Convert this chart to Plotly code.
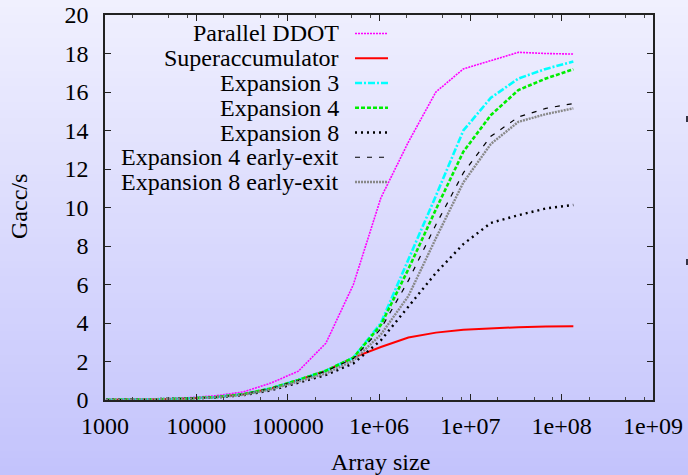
import plotly.graph_objects as go

# ---------------- data ----------------
array_sizes = [1024, 2048, 4096, 8192, 16384, 32768, 65536, 131072, 262144,
               524288, 1048576, 2097152, 4194304, 8388608, 16777216,
               33554432, 67108864, 134217728]

series_names = ["Parallel DDOT", "Superaccumulator", "Expansion 3", "Expansion 4",
                "Expansion 8", "Expansion 4 early-exit", "Expansion 8 early-exit"]

parallel_ddot = [0.02, 0.03, 0.06, 0.12, 0.22, 0.42, 0.88, 1.5, 2.95,
                 6.0, 10.5, 13.4, 16.0, 17.2, 17.65, 18.06, 18.0, 17.97]
superaccumulator = [0.01, 0.02, 0.04, 0.08, 0.15, 0.3, 0.6, 1.04, 1.52,
                    2.2, 2.75, 3.25, 3.5, 3.65, 3.72, 3.78, 3.82, 3.83]
expansion3 = [0.01, 0.02, 0.04, 0.08, 0.15, 0.3, 0.6, 1.04, 1.52,
              2.2, 4.0, 7.3, 10.6, 14.0, 15.7, 16.7, 17.2, 17.58]
expansion4 = [0.01, 0.02, 0.04, 0.08, 0.15, 0.3, 0.6, 1.04, 1.52,
              2.2, 3.9, 6.8, 9.9, 12.9, 14.8, 16.1, 16.7, 17.18]
expansion8 = [0.01, 0.02, 0.03, 0.07, 0.13, 0.25, 0.5, 0.88, 1.3,
              1.9, 3.1, 4.85, 6.6, 8.1, 9.2, 9.6, 9.95, 10.13]
expansion4_ee = [0.01, 0.02, 0.04, 0.08, 0.15, 0.3, 0.6, 1.02, 1.5,
                 2.15, 3.7, 6.2, 9.1, 11.8, 13.7, 14.7, 15.15, 15.4]
expansion8_ee = [0.01, 0.02, 0.03, 0.07, 0.14, 0.27, 0.55, 0.95, 1.38,
                 2.05, 3.4, 5.4, 8.4, 11.3, 13.3, 14.45, 14.85, 15.15]

x_tick_vals = [1e3, 1e4, 1e5, 1e6, 1e7, 1e8, 1e9]
x_tick_text = ["1000", "10000", "100000", "1e+06", "1e+07", "1e+08", "1e+09"]
y_tick_vals = [0, 2, 4, 6, 8, 10, 12, 14, 16, 18, 20]

all_series = [parallel_ddot, superaccumulator, expansion3, expansion4,
              expansion8, expansion4_ee, expansion8_ee]

# ---------------- styles ----------------
styles = [
    dict(color="#ff00ff", width=1.6, dash="2px,1px"),
    dict(color="#ff0000", width=2.0, dash="solid"),
    dict(color="#00ffff", width=2.6, dash="7px,2px,2px,2px"),
    dict(color="#00ee00", width=2.6, dash="4px,2px"),
    dict(color="#000000", width=2.4, dash="2px,4px"),
    dict(color="#000000", width=1.2, dash="5px,7px"),
    dict(color="#888888", width=2.4, dash="2px,1px"),
]

W, H = 688, 475
L, R, T, B = 105, 35, 15, 75
PW, PH = W - L - R, H - T - B
FONT = "Liberation Serif"

fig = go.Figure()
for name, ys, st in zip(series_names, all_series, styles):
    fig.add_trace(go.Scatter(x=array_sizes, y=ys, mode="lines", name=name,
                             line=dict(color=st["color"], width=st["width"],
                                       dash=st["dash"]),
                             showlegend=False, hoverinfo="skip"))

shapes = []
# vertical gradient background
top = (0xF0, 0xF0, 0xFE)
bot = (0xC3, 0xC3, 0xFC)
N = 60
for i in range(N):
    t = (i + 0.5) / N
    c = tuple(round(top[k] + (bot[k] - top[k]) * t) for k in range(3))
    shapes.append(dict(type="rect", xref="paper", yref="paper",
                       x0=-L / PW, x1=(W - L) / PW,
                       y0=1 + T / PH - (i + 1) / N * H / PH - 0.002,
                       y1=1 + T / PH - i / N * H / PH + 0.002,
                       fillcolor="rgb(%d,%d,%d)" % c, line=dict(width=0),
                       layer="below"))

def px_x(p):
    return (p - L) / PW

def px_y(p):
    return (H - B - p) / PH

# manual gnuplot-style legend
annotations = []
row0, row_step = 33.5, 24.75
for i, (name, st) in enumerate(zip(series_names, styles)):
    yc = row0 + i * row_step
    annotations.append(dict(x=px_x(341), y=px_y(yc), xref="paper", yref="paper",
                            text=name, showarrow=False, xanchor="right",
                            yanchor="middle",
                            font=dict(family=FONT, size=24, color="#000")))
    shapes.append(dict(type="line", xref="paper", yref="paper",
                       x0=px_x(355), x1=px_x(388), y0=px_y(yc), y1=px_y(yc),
                       line=dict(color=st["color"], width=st["width"],
                                 dash=st["dash"])))

# axis titles
annotations.append(dict(x=px_x(380), y=px_y(462), xref="paper", yref="paper",
                        text="Array size", showarrow=False, xanchor="center",
                        yanchor="middle",
                        font=dict(family=FONT, size=24, color="#000")))
annotations.append(dict(x=px_x(19), y=px_y(207), xref="paper", yref="paper",
                        text="Gacc/s", showarrow=False, textangle=-90,
                        xanchor="center", yanchor="middle",
                        font=dict(family=FONT, size=24, color="#000")))

# slide bullet fragments on the right edge
for yy in (116, 259):
    shapes.append(dict(type="rect", xref="paper", yref="paper",
                       x0=px_x(686), x1=px_x(689), y0=px_y(yy + 6), y1=px_y(yy),
                       fillcolor="#333344", line=dict(width=0)))

minor_vals = []
for d in [1e3, 1e4, 1e5, 1e6, 1e7, 1e8]:
    for m in (2, 5, 8):
        minor_vals.append(m * d)

fig.update_layout(
    width=W, height=H,
    margin=dict(l=L, r=R, t=T, b=B, pad=0, autoexpand=False),
    paper_bgcolor="#d8d8fd",
    plot_bgcolor="rgba(0,0,0,0)",
    font=dict(family=FONT, size=24, color="#000"),
    showlegend=False,
    hovermode=False,
    shapes=shapes,
    annotations=annotations,
    xaxis=dict(type="log", range=[3, 9], tickvals=x_tick_vals,
               ticktext=x_tick_text, ticks="inside", ticklen=6, tickwidth=1.3,
               tickcolor="#222", showline=True, linecolor="#222", linewidth=1.6,
               mirror="ticks", showgrid=False, zeroline=False, automargin=False,
               ticklabelstandoff=3, ticklabeloverflow="allow",
               minor=dict(tickvals=minor_vals, ticks="inside", ticklen=3,
                          tickwidth=1, tickcolor="#444", showgrid=False),
               tickfont=dict(family=FONT, size=24)),
    yaxis=dict(range=[0, 20], tickvals=y_tick_vals, ticks="inside", ticklen=6,
               tickwidth=1.3, tickcolor="#222", showline=True, linecolor="#222",
               linewidth=1.6, mirror="ticks", showgrid=False, zeroline=False,
               automargin=False, ticklabelstandoff=10, ticklabeloverflow="allow",
               tickfont=dict(family=FONT, size=24)),
)

fig.write_html("out.html", config={"displayModeBar": False},
               post_script="document.body.style.margin='0';"
                           "document.body.style.padding='0';"
                           "document.documentElement.style.overflow='hidden';")
